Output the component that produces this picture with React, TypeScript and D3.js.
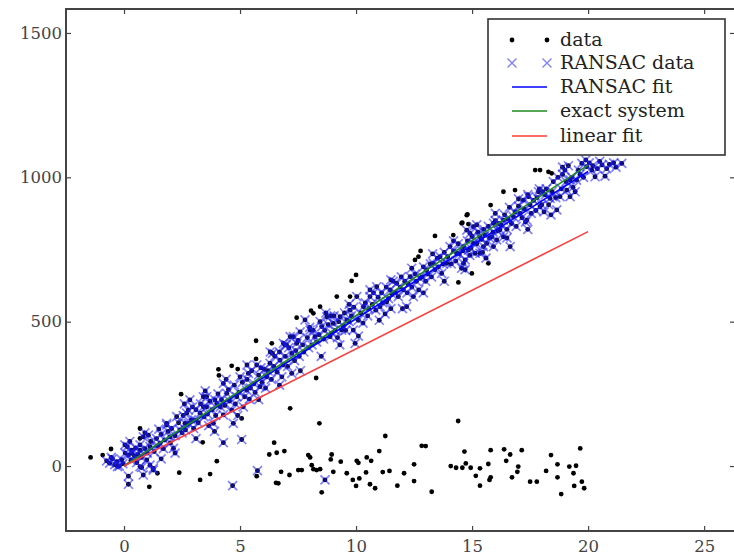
import React, { useRef, useEffect } from "react";
import { select, scaleLinear, axisLeft, axisBottom, axisTop, axisRight, line } from "d3";

// tick values
const xTicks = [0, 5, 10, 15, 20, 25];
const yTicks = [0, 500, 1000, 1500];

// points picked up by RANSAC (blue x over a black dot)
const ransacPoints: [number, number][] = [
  [-0.75, 18], [-0.62, 10], [-0.5, 25], [-0.4, 5], [-0.3, 15], [-0.2, 0], [-0.1, 22], [-0.05, 8], [-0.55, 30], [-0.28, -2],
  [0.04, 73], [0.14, 67], [0.19, 38], [0.33, 55], [0.33, 44], [0.69, 55], [0.69, 73], [0.83, 101], [0.98, 21], [0.69, -2],
  [0.83, -31], [1.26, -14], [1.05, 107], [1.12, 67], [1.12, 3], [0.76, -5], [1.26, -8], [1.55, 79], [1.98, 101], [1.84, 142],
  [1.84, 148], [2.13, 61], [2.27, 171], [2.41, 125], [2.63, 148], [2.77, 148], [2.77, 194], [2.7, 183], [2.84, 229], [3.06, 159],
  [3.28, 183], [3.42, 205], [3.42, 240], [3.56, 205], [3.56, 240], [3.85, 148], [3.92, 229], [4, 217], [4.28, 177], [4.28, 286],
  [4.28, 81], [4.43, 252], [4.64, 194], [4.71, 148], [4.86, 240], [5, 309], [5.07, 92], [5.14, 205], [5.29, 263], [5.36, 321],
  [5.72, 350], [5.86, 275], [6.15, 309], [6.29, 356], [6.72, 367], [6.8, 309], [6.94, 419], [7.23, 390], [7.23, 321], [7.3, 448],
  [6.87, 425], [7.16, 448], [7.44, 425], [7.59, 465], [7.8, 506], [8.02, 471], [8.23, 448], [8.52, 483], [8.74, 517], [8.88, 448],
  [9.02, 494], [9.38, 471], [9.31, 517], [9.6, 506], [9.74, 540], [9.88, 471], [9.96, 425], [10.03, 587], [10.32, 552], [10.6, 587],
  [10.89, 621], [11.03, 552], [11.25, 527], [11.32, 569], [11.47, 610], [11.75, 633], [11.82, 587], [12.04, 610], [12.18, 552], [12.33, 656],
  [12.47, 587], [12.76, 650], [13.04, 679], [13.33, 702], [13.62, 725], [13.69, 667], [13.91, 702], [14.05, 760], [14.34, 737], [14.63, 702],
  [14.55, 685], [14.63, 760], [14.7, 714], [14.77, 817], [14.84, 748], [14.91, 806], [15.06, 829], [15.06, 771], [15.13, 737], [15.34, 794],
  [15.34, 737], [15.49, 760], [15.63, 771], [15.85, 794], [15.92, 841], [15.92, 760], [16.06, 783], [16.2, 818], [16.35, 852], [16.35, 794],
  [16.61, 896], [16.64, 760], [16.78, 864], [17.07, 875], [17.21, 921], [17.36, 852], [17.43, 933], [17.86, 950], [17.93, 898], [18.15, 939],
  [18.36, 927], [18.65, 887], [18.79, 933], [19.0, 1025], [19.08, 956], [19.22, 991], [19.22, 933], [19.44, 950], [19.58, 1025], [19.73, 1048],
  [19.94, 1037], [20.16, 1025], [20.3, 1002], [20.6, 1043], [20.73, 1004], [20.92, 1045], [21.45, 1048],
  [0.19, -35], [0.19, -63], [4.68, -68], [5.75, -16], [8.66, -48],
  [0.3, 20], [0.45, 35], [0.55, 12], [0.6, 40], [0.75, 30], [0.9, 60], [1.0, 45], [1.15, 85], [1.3, 50], [1.4, 95],
  [1.45, 70], [1.6, 110], [1.7, 60], [1.75, 90], [1.9, 120], [2.0, 80], [0.05, 45], [0.25, 85], [0.5, 62], [1.5, 128],
  [2.05, 130], [2.2, 105], [2.35, 150], [2.5, 115], [2.55, 175], [2.65, 125], [2.9, 160], [3.0, 130], [3.1, 195], [3.2, 150],
  [3.3, 215], [3.45, 170], [3.6, 180], [3.7, 225], [3.8, 195], [3.95, 175], [4.05, 250], [4.15, 205], [2.95, 205], [3.65, 140],
  [4.2, 230], [4.35, 210], [4.5, 265], [4.55, 225], [4.75, 280], [4.8, 215], [4.95, 255], [5.1, 290], [5.2, 240], [5.3, 300],
  [5.45, 270], [5.5, 330], [5.6, 285], [5.65, 255], [5.8, 315], [5.9, 340], [5.95, 290], [6.05, 335], [6.1, 270], [5.4, 232],
  [6.2, 330], [6.35, 300], [6.45, 345], [6.5, 380], [6.6, 325], [6.7, 395], [6.85, 350], [6.95, 380], [7.05, 345], [7.1, 410],
  [7.35, 365], [7.4, 400], [7.5, 435], [7.55, 380], [7.7, 420], [7.75, 395], [7.9, 445], [7.95, 410], [8.1, 420], [6.4, 390],
  [8.15, 470], [8.3, 430], [8.4, 455], [8.45, 500], [8.6, 440], [8.65, 470], [8.8, 490], [8.95, 460], [9.05, 520], [9.1, 470],
  [9.2, 445], [9.25, 500], [9.45, 485], [9.5, 530], [9.55, 470], [9.7, 500], [9.8, 520], [9.9, 550], [10.1, 505], [8.7, 530],
  [10.2, 530], [10.3, 495], [10.4, 565], [10.5, 520], [10.55, 545], [10.7, 560], [10.75, 600], [10.85, 540], [10.95, 585], [11.1, 600],
  [11.15, 565], [11.3, 620], [11.4, 580], [11.55, 595], [11.6, 640], [11.7, 600], [11.9, 620], [11.95, 655], [12.1, 640], [11.5, 545],
  [12.2, 600], [12.25, 630], [12.4, 620], [12.55, 665], [12.6, 640], [12.7, 610], [12.85, 655], [12.9, 690], [13.0, 640], [13.1, 665],
  [13.2, 700], [13.25, 655], [13.4, 680], [13.5, 720], [13.55, 690], [13.75, 700], [13.8, 740], [13.95, 725], [14.1, 700], [14.2, 745],
  [14.3, 710], [14.4, 770], [14.45, 735], [14.6, 745], [14.8, 780], [14.95, 755], [15.0, 795], [15.2, 770], [15.25, 810], [15.4, 785],
  [15.5, 820], [15.55, 800], [15.7, 830], [15.75, 790], [15.9, 810], [16.0, 850], [16.1, 815], [15.45, 740], [14.9, 730], [16.15, 840],
  [16.25, 835], [16.4, 870], [16.5, 820], [16.55, 855], [16.7, 840], [16.85, 880], [16.9, 830], [17.0, 900], [17.15, 860], [17.25, 890],
  [17.3, 845], [17.5, 905], [17.55, 875], [17.65, 920], [17.75, 885], [17.8, 930], [18.0, 905], [18.05, 950], [18.1, 880], [17.4, 940],
  [18.2, 960], [18.3, 905], [18.45, 950], [18.5, 985], [18.6, 930], [18.7, 1000], [18.85, 960], [18.9, 1010], [19.05, 985], [19.15, 1040],
  [19.3, 1000], [19.35, 965], [19.5, 990], [19.65, 1010], [19.8, 1000], [19.9, 1060], [20.05, 1050], [20.2, 1040], [20.4, 1030], [20.5, 1055],
  [20.8, 1030], [21.1, 1050], [21.2, 1035],
  [0.9, 115], [1.6, 25], [2.2, 45], [2.6, 215], [3.1, 95], [3.5, 260], [3.9, 120], [4.4, 300], [4.9, 175], [5.3, 350],
  [5.8, 230], [6.3, 395], [6.7, 280], [7.0, 420], [7.6, 330], [8.0, 480], [8.5, 380], [8.9, 520], [9.3, 420], [9.7, 560],
  [10.1, 450], [10.6, 610], [11.0, 505], [11.5, 645], [12.0, 545], [12.4, 685], [12.9, 600], [13.3, 735], [13.8, 640], [14.2, 780],
  [14.7, 680], [15.2, 835], [15.6, 720], [16.0, 875], [16.5, 790], [17.0, 925], [17.4, 820], [17.9, 960], [18.4, 870], [18.9, 1035],
];

// near-line points RANSAC left out
const excludedPoints: [number, number][] = [
  [0.69, 130], [0.69, 96], [2.46, 249], [4.07, 335], [4.09, 314], [4.64, 347], [4.9, 336], [5.07, 165], [5.69, 434], [5.69, 371],
  [6.37, 425], [7.16, 200], [7.44, 514], [8.06, 538], [8.16, 529], [8.28, 305], [8.45, 552], [9.17, 587], [9.74, 587], [9.81, 641],
  [10, 662], [12.54, 714], [12.69, 725], [12.78, 745], [13.4, 797], [14.19, 800], [14.41, 636], [14.55, 841], [14.58, 843], [14.77, 869],
  [14.8, 872], [14.84, 838], [14.99, 667], [15.7, 702], [15.8, 904], [16.35, 950], [16.85, 956], [17.72, 1025], [17.93, 1025], [18.29, 1019],
  [18.43, 1014],
];

// outliers along the bottom
const outlierPoints: [number, number][] = [
  [-1.44, 30], [-0.92, 38], [-0.56, 59], [1.44, -25], [1.09, -72], [2.38, -23], [3.28, -48], [3.71, -28], [4.0, 17], [3.39, 82],
  [5.72, -35], [6.47, 81], [6.26, 40], [6.58, 46], [6.91, 52], [6.77, -20], [7.13, -31], [6.55, -58], [6.65, -60], [7.51, -14],
  [7.66, -14], [7.94, 38], [8.02, 30], [8.09, 3], [8.16, -11], [8.3, -14], [8.45, -11], [8.52, -91], [8.42, 148], [8.95, 40],
  [8.91, 23], [9.02, -20], [9.34, 15], [9.6, -25], [10.03, 18], [10.1, 11], [9.86, -48], [10, -69], [10.14, -43], [10.43, -22],
  [10.46, 30], [10.65, 18], [10.6, -63], [10.82, -77], [11, 52], [11.26, 104], [11.15, -21], [11.44, -17], [11.78, -68], [12.07, -25],
  [12.5, 6], [12.5, -52], [12.83, 70], [13.0, 69], [13.26, -89], [14.08, 0], [14.31, -6], [14.4, 156], [14.58, -6], [14.67, 50],
  [14.73, 9], [14.94, -6], [15.16, -34], [15.34, -8], [15.34, -68], [15.7, 7], [15.75, -48], [15.8, -39], [15.8, 55], [16.38, 58],
  [16.47, 18], [16.64, 40], [16.72, -39], [16.95, -20], [16.99, -2], [17.14, 55], [17.5, -54], [17.79, -54], [18.19, -17], [18.4, 38],
  [18.68, 6], [18.68, -39], [18.84, -97], [19.19, -2], [19.48, 1], [19.37, -25], [19.4, -69], [19.66, 61], [19.73, -54], [19.83, -77],
];

// fitted lines (x ends and y ends)
const fitX = [0, 20];
const ransacFitY = [0, 1020];
const exactY = [0, 1042];
const linearFitY = [0, 812];

const legendItems = ["data", "RANSAC data", "RANSAC fit", "exact system", "linear fit"];

const W = 734;
const H = 555;
const FONT = "'DejaVu Serif', serif";

const App = () => {
  const svgRef = useRef<SVGSVGElement>(null);

  useEffect(() => {
    const svg = select(svgRef.current);
    svg.selectAll("*").remove();

    const left = 66, right = 735, top = 9, bottom = 531;
    const x = scaleLinear().domain([-2.5, 26.33]).range([left, right]);
    const y = scaleLinear().domain([-225, 1583]).range([bottom, top]);

    const allData = [...outlierPoints, ...excludedPoints, ...ransacPoints];

    // black data dots
    svg.append("g")
      .selectAll("circle")
      .data(allData)
      .join("circle")
      .attr("cx", (d) => x(d[0]))
      .attr("cy", (d) => y(d[1]))
      .attr("r", 2.4)
      .attr("fill", "#000");

    // RANSAC x markers
    const s = 4.5;
    const cross = (cx: number, cy: number) =>
      `M${cx - s},${cy - s}L${cx + s},${cy + s}M${cx - s},${cy + s}L${cx + s},${cy - s}`;
    svg.append("g")
      .selectAll("path")
      .data(ransacPoints)
      .join("path")
      .attr("d", (d) => cross(x(d[0]), y(d[1])))
      .attr("stroke", "#1a1aff")
      .attr("stroke-opacity", 0.55)
      .attr("stroke-width", 1.7)
      .attr("fill", "none");

    // fit lines
    const fits = [
      { ys: ransacFitY, color: "#0000ff" },
      { ys: exactY, color: "#1f8a1f" },
      { ys: linearFitY, color: "#ff3b3b" },
    ];
    const lineGen = line<number>()
      .x((_, i) => x(fitX[i]))
      .y((d) => y(d));
    svg.append("g")
      .selectAll("path")
      .data(fits)
      .join("path")
      .attr("d", (d) => lineGen(d.ys))
      .attr("stroke", (d) => d.color)
      .attr("stroke-width", 1.6)
      .attr("fill", "none");

    // axes, ticks point inward like matplotlib
    const styleAxis = (g: any) => {
      g.select(".domain").remove();
      g.selectAll(".tick line").attr("stroke", "#444").attr("stroke-width", 1.2);
      g.selectAll(".tick text")
        .attr("fill", "#444")
        .style("font-family", FONT)
        .style("font-size", "16.5px");
    };
    svg.append("g")
      .attr("transform", `translate(${left},0)`)
      .call(axisLeft(y).tickValues(yTicks).tickFormat((d) => String(d)).tickSizeInner(-5).tickSizeOuter(0).tickPadding(4))
      .call(styleAxis);
    svg.append("g")
      .attr("transform", `translate(0,${bottom})`)
      .call(axisBottom(x).tickValues(xTicks).tickFormat((d) => String(d)).tickSizeInner(-5).tickSizeOuter(0).tickPadding(9))
      .call(styleAxis);
    svg.append("g")
      .attr("transform", `translate(0,${top})`)
      .call(axisTop(x).tickValues(xTicks).tickSizeInner(-5).tickSizeOuter(0).tickFormat(() => ""))
      .call(styleAxis);
    svg.append("g")
      .attr("transform", `translate(${right},0)`)
      .call(axisRight(y).tickValues(yTicks).tickSizeInner(-5).tickSizeOuter(0).tickFormat(() => ""))
      .call(styleAxis);

    // frame
    svg.append("rect")
      .attr("x", left)
      .attr("y", top)
      .attr("width", right - left)
      .attr("height", bottom - top)
      .attr("fill", "none")
      .attr("stroke", "#444")
      .attr("stroke-width", 2);

    // legend
    const lg = svg.append("g");
    lg.append("rect")
      .attr("x", 488).attr("y", 19).attr("width", 237).attr("height", 136)
      .attr("fill", "#fff").attr("stroke", "#333").attr("stroke-width", 1.6);
    const rowY = [40, 63, 87, 111, 136];
    const mx = [512, 547];
    legendItems.forEach((label, i) => {
      const cy = rowY[i];
      if (i === 0) {
        mx.forEach((m) => lg.append("circle").attr("cx", m).attr("cy", cy).attr("r", 2.4).attr("fill", "#000"));
      } else if (i === 1) {
        mx.forEach((m) =>
          lg.append("path")
            .attr("d", cross(m, cy))
            .attr("stroke", "#1a1aff").attr("stroke-opacity", 0.55).attr("stroke-width", 1.4)
        );
      } else {
        lg.append("line")
          .attr("x1", mx[0]).attr("x2", mx[1]).attr("y1", cy).attr("y2", cy)
          .attr("stroke", fits[i - 2].color).attr("stroke-width", 1.6);
      }
      lg.append("text")
        .attr("x", 560)
        .attr("y", cy + 6)
        .attr("fill", "#222")
        .style("font-family", FONT)
        .style("font-size", "19px")
        .text(label);
    });
  }, []);

  return (
    <svg
      ref={svgRef}
      width={W}
      height={H}
      style={{ position: "absolute", left: 0, top: 0, background: "#fff" }}
    />
  );
};

export default App;
